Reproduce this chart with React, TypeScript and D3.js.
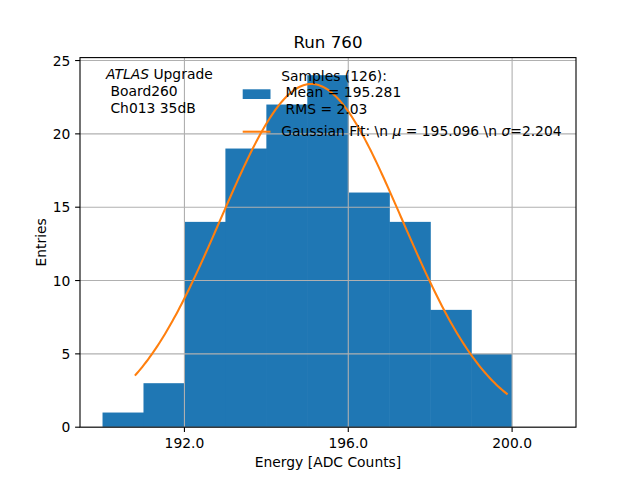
import React from "react";
import * as d3 from "d3";

// ---- data ----
const binEdgesLow = [190, 191, 192, 193, 194, 195, 196, 197, 198, 199];
const binCounts = [1, 3, 14, 19, 22, 24, 16, 14, 8, 5];
const binWidth = 1;
const xTicks = [192, 196, 200];
const yTicks = [0, 5, 10, 15, 20, 25];
const fitMu = 195.096;
const fitSigma = 2.204;
const fitAmplitude = 23.4;
const fitCurveSigma = 2.212;
const fitRange = [190.79, 199.89];
const sampleCount = 126;
const sampleMean = 195.281;
const sampleRms = 2.03;
const title = "Run 760";
const infoLines = ["Board260", "Ch013 35dB"];

const W = 640;
const H = 480;
const M = { left: 80, right: 576, top: 57.6, bottom: 427.2 };
const FONT = "'DejaVu Sans', sans-serif";
const FS = 13.89;

export default function App() {
  const x = d3.scaleLinear().domain([189.45, 201.56]).range([M.left, M.right]);
  const y = d3.scaleLinear().domain([0, 25.2]).range([M.bottom, M.top]);

  const n = 200;
  const pts: [number, number][] = d3.range(n).map((i) => {
    const xv = fitRange[0] + ((fitRange[1] - fitRange[0]) * i) / (n - 1);
    const z = (xv - fitMu) / fitCurveSigma;
    return [xv, fitAmplitude * Math.exp(-0.5 * z * z)];
  });
  const line = d3
    .line<[number, number]>()
    .x((d) => x(d[0]))
    .y((d) => y(d[1]));

  const grid = "#b0b0b0";
  return (
    <svg
      width={W}
      height={H}
      style={{ position: "absolute", left: 0, top: 0, background: "#fff" }}
      fontFamily={FONT}
    >
      <rect width={W} height={H} fill="#fff" />
      <defs>
        <clipPath id="plotclip">
          <rect x={M.left} y={M.top} width={M.right - M.left} height={M.bottom - M.top} />
        </clipPath>
      </defs>
      {/* bars */}
      <g clipPath="url(#plotclip)">
        {binEdgesLow.map((b, i) => (
          <rect
            key={i}
            x={x(b)}
            y={y(binCounts[i])}
            width={x(b + binWidth) - x(b) + (i < binEdgesLow.length - 1 ? 0.6 : 0)}
            height={y(0) - y(binCounts[i])}
            fill="#1f77b4"
          />
        ))}
        {/* grid */}
        {xTicks.map((t) => (
          <line key={"gx" + t} x1={x(t)} x2={x(t)} y1={M.top} y2={M.bottom} stroke={grid} strokeWidth={1.1} />
        ))}
        {yTicks.map((t) => (
          <line key={"gy" + t} x1={M.left} x2={M.right} y1={y(t)} y2={y(t)} stroke={grid} strokeWidth={1.1} />
        ))}
        <path d={line(pts) || ""} fill="none" stroke="#ff7f0e" strokeWidth={2.08} />
      </g>
      {/* spines */}
      <rect
        x={M.left}
        y={M.top}
        width={M.right - M.left}
        height={M.bottom - M.top}
        fill="none"
        stroke="#000"
        strokeWidth={1.1}
      />
      {/* x ticks */}
      {xTicks.map((t) => (
        <g key={"xt" + t}>
          <line x1={x(t)} x2={x(t)} y1={M.bottom} y2={M.bottom + 4.9} stroke="#000" strokeWidth={1.1} />
          <text x={x(t)} y={447.7} fontSize={FS} textAnchor="middle" fill="#000">
            {t.toFixed(1)}
          </text>
        </g>
      ))}
      {/* y ticks */}
      {yTicks.map((t) => (
        <g key={"yt" + t}>
          <line x1={M.left - 4.9} x2={M.left} y1={y(t)} y2={y(t)} stroke="#000" strokeWidth={1.1} />
          <text x={70.3} y={y(t) + 5} fontSize={FS} textAnchor="end" fill="#000">
            {t}
          </text>
        </g>
      ))}
      {/* labels */}
      <text x={(M.left + M.right) / 2} y={466.5} fontSize={FS} textAnchor="middle" fill="#000">
        Energy [ADC Counts]
      </text>
      <text
        transform={`translate(45.5, ${(M.top + M.bottom) / 2}) rotate(-90)`}
        fontSize={FS}
        textAnchor="middle"
        fill="#000"
      >
        Entries
      </text>
      <text x={(M.left + M.right) / 2} y={48.3} fontSize={16.67} textAnchor="middle" fill="#000">
        {title}
      </text>
      {/* info text */}
      <g fontSize={FS} fill="#000">
        <text x={106} y={79} xmlSpace="preserve">
          <tspan fontStyle="italic">ATLAS</tspan>
          <tspan> Upgrade</tspan>
        </text>
        {infoLines.map((l, i) => (
          <text key={l} x={106} y={79 + 17.2 * (i + 1)} xmlSpace="preserve">
            {" " + l}
          </text>
        ))}
      </g>
      {/* legend */}
      <g fontSize={FS} fill="#000">
        <rect x={242.7} y={89.3} width={27.8} height={9.7} fill="#1f77b4" />
        <text x={281.2} y={80.7} xmlSpace="preserve">{`Samples (${sampleCount}):`}</text>
        <text x={281.2} y={97.2} xmlSpace="preserve">{` Mean = ${sampleMean}`}</text>
        <text x={281.2} y={113.6} xmlSpace="preserve">{` RMS = ${sampleRms}`}</text>
        <line x1={242.7} x2={270.5} y1={131.7} y2={131.7} stroke="#ff7f0e" strokeWidth={2.08} />
        <text x={281.2} y={136} xmlSpace="preserve">
          <tspan>{"Gaussian Fit: \\n "}</tspan>
          <tspan fontStyle="italic">μ</tspan>
          <tspan>{` = ${fitMu} \\n `}</tspan>
          <tspan fontStyle="italic">σ</tspan>
          <tspan>{`=${fitSigma}`}</tspan>
        </text>
      </g>
    </svg>
  );
}
